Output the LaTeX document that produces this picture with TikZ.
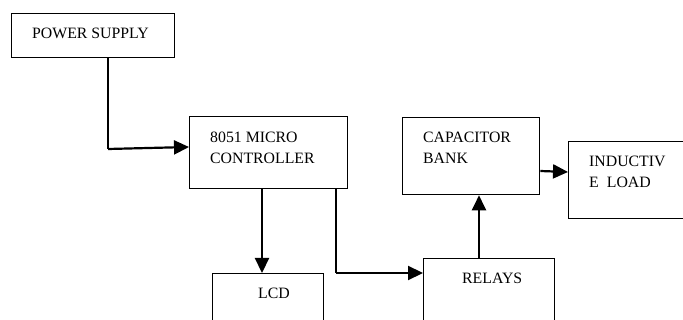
\documentclass[tikz,border=0pt]{standalone}
\usepackage{fontspec}
\setmainfont{Liberation Serif}
\usetikzlibrary{arrows.meta}
\begin{document}
\begin{tikzpicture}[x=1pt,y=-1pt,
  box/.style={draw,line width=1.3pt,inner sep=0pt,anchor=north west},
  lbl/.style={anchor=base west,inner sep=0pt,font=\fontsize{15.8}{21}\selectfont},
  conn/.style={line width=2.2pt,-{Triangle[length=15pt,width=14pt]}}]
\useasboundingbox (0,0) rectangle (683,320);
\clip (0,0) rectangle (683,320);
% boxes
\node[box,minimum width=163pt,minimum height=44pt] (ps) at (11,13) {};
\node[box,minimum width=158pt,minimum height=72pt] (mc) at (189,116) {};
\node[box,minimum width=111pt,minimum height=70pt] (lcd) at (212,273) {};
\node[box,minimum width=131pt,minimum height=80pt] (rel) at (423,258) {};
\node[box,minimum width=137pt,minimum height=77pt] (cap) at (402,117) {};
\node[box,minimum width=140pt,minimum height=77pt] (ind) at (568,141) {};
% texts
\node[lbl] (tps) at (32,39) {POWER SUPPLY};
\node[lbl] (tmc1) at (210,143) {8051 MICRO};
\node[lbl] (tmc2) at (210,164) {CONTROLLER};
\node[lbl] (tlcd) at (258,299) {LCD};
\node[lbl] (trel) at (462,284) {RELAYS};
\node[lbl] (tcap1) at (423,143) {CAPACITOR};
\node[lbl] (tcap2) at (423,164) {BANK};
\node[lbl] (tind1) at (589,167) {INDUCTIV};
\node[lbl] (tind2) at (589,188) {E\hspace{8pt}LOAD};
% connectors
\coordinate (b1) at (108,149);
\coordinate (b2) at (336,273);
\draw[line width=2.2pt] (ps.south -| b1) -- (b1);
\draw[conn] (b1) -- (mc.west |- 0,147);
\draw[conn] (mc.south -| 262,0) -- (lcd.north -| 262,0);
\draw[line width=2.2pt] (mc.south -| b2) -- (b2);
\draw[conn] (b2) -- (rel.west |- b2);
\draw[conn] (rel.north -| 479,0) -- (cap.south -| 479,0);
\draw[conn] (cap.east |- 0,171) -- (ind.west |- 0,172);
\end{tikzpicture}
\end{document}
